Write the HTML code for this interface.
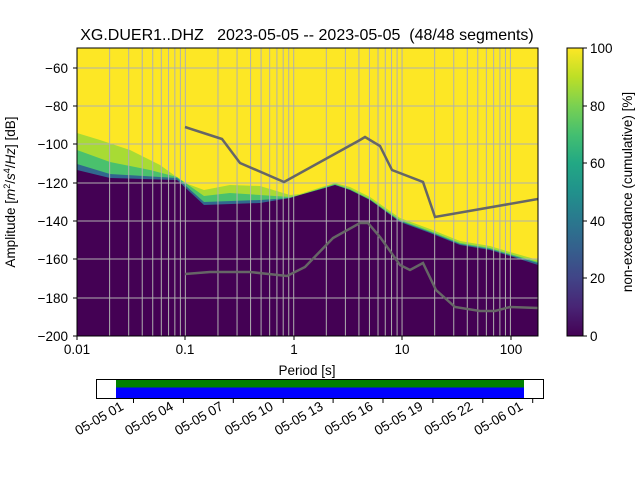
<!DOCTYPE html>
<html><head><meta charset="utf-8"><style>
body{margin:0;background:#fff}
text{font-family:"Liberation Sans","DejaVu Sans",sans-serif;fill:#000;white-space:pre}
</style></head><body>
<svg width="640" height="480" viewBox="0 0 640 480" xmlns="http://www.w3.org/2000/svg" xml:space="preserve">
<defs>
<linearGradient id="vir" x1="0" y1="1" x2="0" y2="0">
<stop offset="0" stop-color="#440154"/><stop offset="0.1" stop-color="#482475"/>
<stop offset="0.2" stop-color="#414487"/><stop offset="0.3" stop-color="#355f8d"/>
<stop offset="0.4" stop-color="#2a788e"/><stop offset="0.5" stop-color="#21918c"/>
<stop offset="0.6" stop-color="#22a884"/><stop offset="0.7" stop-color="#44bf70"/>
<stop offset="0.8" stop-color="#7ad151"/><stop offset="0.9" stop-color="#bddf26"/>
<stop offset="1" stop-color="#fde725"/>
</linearGradient>
<clipPath id="c"><rect x="77" y="48" width="461" height="288"/></clipPath>
</defs>
<text x="307" y="40" font-size="16" text-anchor="middle">XG.DUER1..DHZ   2023-05-05 -- 2023-05-05  (48/48 segments)</text>
<g clip-path="url(#c)">
<rect x="77" y="48" width="461" height="288" fill="#fde725"/>
<polygon fill="#a8db34" points="77,133 100,140 130,150 160,165 185,183 204,190 230,185 260,186 290,195 300,194 325,186 335,183 350,187 370,197 400,218 430,229 460,241 490,246 510,252 538,260 538,336 77,336"/>
<polygon fill="#4ac16d" points="77,150 110,162 150,170 177,177 204,196 230,193 260,195 290,197 300,195 325,187 335,184 350,189 370,199 400,220 430,231 460,243 490,248 510,254 538,262 538,336 77,336"/>
<polygon fill="#31688e" points="77,164 110,174 177,178 204,202 260,200 290,198 300,195 325,188 335,185 350,190 370,200 400,221 430,232 460,244 490,249 510,255 538,263 538,336 77,336"/>
<polygon fill="#440154" points="77,170 110,178 177,180 204,205 260,203 290,198 300,195 325,188 335,185 350,190 370,200 400,222 430,233 460,245 490,250 510,256 538,265 538,336 77,336"/>
<g stroke="#b0b0b0" stroke-width="1">
<line x1="77" x2="538" y1="68" y2="68"/><line x1="77" x2="538" y1="106" y2="106"/><line x1="77" x2="538" y1="144" y2="144"/><line x1="77" x2="538" y1="183" y2="183"/><line x1="77" x2="538" y1="221" y2="221"/><line x1="77" x2="538" y1="259" y2="259"/><line x1="77" x2="538" y1="298" y2="298"/>
</g>
<g stroke="#b0b0b0" stroke-width="1" id="vlines"></g>
<polyline fill="none" stroke="#666" stroke-width="2.5" points="185,127 222,139 240,163 284,182 360,140 365,137 380,146 392,170 423,182 435,217 538,199"/>
<polyline fill="none" stroke="#666" stroke-width="2.5" points="185,274 210,272 250,272 287,276 305,267 333,238 360,223 368,223 380,237 400,265 410,270 423,263 436,290 455,307 480,311 495,311 510,307 538,308"/>
</g>
<rect x="77" y="48" width="461" height="288" fill="none" stroke="#000" stroke-width="1"/>
<g font-size="13.5" text-anchor="end">
<text x="68" y="73">−60</text><text x="68" y="111">−80</text><text x="68" y="149">−100</text><text x="68" y="188">−120</text><text x="68" y="226">−140</text><text x="68" y="264">−160</text><text x="68" y="303">−180</text><text x="68" y="341">−200</text>
</g>
<g stroke="#000"><line x1="73" x2="77" y1="68" y2="68"/><line x1="73" x2="77" y1="106" y2="106"/><line x1="73" x2="77" y1="144" y2="144"/><line x1="73" x2="77" y1="183" y2="183"/><line x1="73" x2="77" y1="221" y2="221"/><line x1="73" x2="77" y1="259" y2="259"/><line x1="73" x2="77" y1="298" y2="298"/><line x1="73" x2="77" y1="336" y2="336"/>
<line x1="77" x2="77" y1="336" y2="340"/><line x1="185" x2="185" y1="336" y2="340"/><line x1="294" x2="294" y1="336" y2="340"/><line x1="402" x2="402" y1="336" y2="340"/><line x1="511" x2="511" y1="336" y2="340"/></g>
<g font-size="13.5" text-anchor="middle">
<text x="77" y="354">0.01</text><text x="185" y="354">0.1</text><text x="294" y="354">1</text><text x="402" y="354">10</text><text x="511" y="354">100</text>
<text x="307" y="375">Period [s]</text>
</g>
<text transform="translate(15,192) rotate(-90)" font-size="13.5" text-anchor="middle">Amplitude [<tspan font-style="italic">m</tspan><tspan font-size="9" dy="-5">2</tspan><tspan dy="5">/</tspan><tspan font-style="italic">s</tspan><tspan font-size="9" dy="-5">4</tspan><tspan dy="5">/</tspan><tspan font-style="italic">Hz</tspan>] [dB]</text>
<rect x="567" y="48" width="16" height="288" fill="url(#vir)" stroke="#000" stroke-width="1"/>
<g stroke="#000"><line x1="583" x2="587" y1="48" y2="48"/><line x1="583" x2="587" y1="106" y2="106"/><line x1="583" x2="587" y1="163" y2="163"/><line x1="583" x2="587" y1="221" y2="221"/><line x1="583" x2="587" y1="278" y2="278"/><line x1="583" x2="587" y1="336" y2="336"/></g>
<g font-size="13.5"><text x="590" y="53">100</text><text x="590" y="111">80</text><text x="590" y="168">60</text><text x="590" y="226">40</text><text x="590" y="283">20</text><text x="590" y="341">0</text></g>
<text transform="translate(632,192) rotate(-90)" font-size="13.5" text-anchor="middle">non-exceedance (cumulative) [%]</text>
<rect x="96.5" y="379.5" width="447" height="19" fill="#fff" stroke="#000"/>
<rect x="116" y="380" width="408" height="7.5" fill="#008000"/>
<rect x="116" y="387.5" width="408" height="10.5" fill="#0000ff"/>
<g stroke="#000" id="bt"></g>
<g font-size="13.5" text-anchor="end" id="bl"></g>
<script>
var ns="http://www.w3.org/2000/svg",g=document.getElementById("vlines");
for(var d=0;d<5;d++)for(var k=1;k<10;k++){var x=77+(d+Math.log10(k))*108.35;if(x>538)break;var l=document.createElementNS(ns,"line");l.setAttribute("x1",x);l.setAttribute("x2",x);l.setAttribute("y1",48);l.setAttribute("y2",336);g.appendChild(l);}
var labs=["05-05 01","05-05 04","05-05 07","05-05 10","05-05 13","05-05 16","05-05 19","05-05 22","05-06 01"];
var bt=document.getElementById("bt"),bl=document.getElementById("bl");
for(var i=0;i<9;i++){var x=133.5+i*49.9;var l=document.createElementNS(ns,"line");l.setAttribute("x1",x);l.setAttribute("x2",x);l.setAttribute("y1",399);l.setAttribute("y2",403);bt.appendChild(l);
var t=document.createElementNS(ns,"text");t.setAttribute("transform","translate("+(x-9)+",409) rotate(-30)");t.textContent=labs[i];bl.appendChild(t);}
</script>
</svg>
</body></html>
